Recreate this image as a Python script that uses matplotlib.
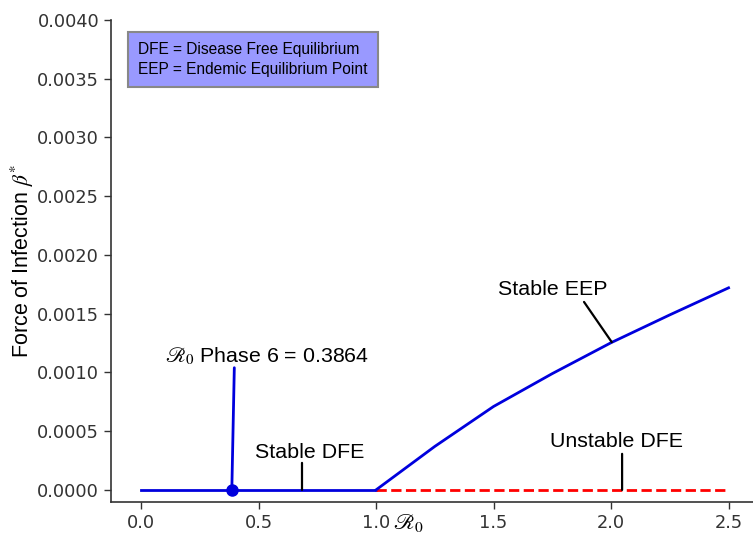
import matplotlib
matplotlib.use("Agg")
import matplotlib.pyplot as plt

plt.rcParams['font.family'] = ['Liberation Sans', 'DejaVu Sans']
plt.rcParams['mathtext.fontset'] = 'stix'

# Data
dfe_r0 = [0.0, 1.0]
dfe_beta = [0.0, 0.0]
unstable_r0 = [1.0, 2.5]
unstable_beta = [0.0, 0.0]
eep_r0 = [1.0, 1.25, 1.5, 1.75, 2.0, 2.25, 2.5]
eep_beta = [0.0, 0.00037, 0.00071, 0.00099, 0.001253, 0.00149, 0.00172]
phase6_r0 = 0.3864
phase6_beta = 0.0
xticks = [0.0, 0.5, 1.0, 1.5, 2.0, 2.5]
yticks = [0.0, 0.0005, 0.0010, 0.0015, 0.0020, 0.0025, 0.0030, 0.0035, 0.0040]

fig = plt.figure(figsize=(7.53, 5.40), dpi=100)
ax = fig.add_axes([111/753, 38/540, 1 - 111/753, (502-20)/540])

ax.plot(dfe_r0, dfe_beta, color='#0000dd', lw=2)
ax.plot(unstable_r0, unstable_beta, color='red', lw=2, ls='--')
ax.plot(eep_r0, eep_beta, color='#0000dd', lw=2)
ax.plot([phase6_r0], [phase6_beta], 'o', color='#0000dd', ms=8, zorder=5)

ax.set_xlim(-0.1277, 2.604)
ax.set_ylim(-0.000103, 0.0040)
ax.set_xticks(xticks)
ax.set_xticklabels([f"{v:.1f}" for v in xticks])
ax.set_yticks(yticks)
ax.set_yticklabels([f"{v:.4f}" for v in yticks])
ax.tick_params(labelsize=12.8, length=5, width=1, colors='#333333', labelcolor='#333333')
for lab in ax.get_xticklabels() + ax.get_yticklabels():
    lab.set_family('DejaVu Sans')

for s in ['top', 'right']:
    ax.spines[s].set_visible(False)
for s in ['left', 'bottom']:
    ax.spines[s].set_color('#333333')
    ax.spines[s].set_linewidth(1.2)

ax.set_ylabel(r'Force of Infection $\beta^{*}$', fontsize=15.5, labelpad=1)
ax.set_xlabel(r'$\mathscr{R}_0$', fontsize=16)
ax.xaxis.set_label_coords((408-111)/(753-111), -0.02)

lp = dict(arrowstyle='-', color='black', lw=1.6, shrinkA=0, shrinkB=0)

# Phase 6 annotation
ax.annotate('', xy=(phase6_r0, phase6_beta), xytext=(0.397, 0.00104),
            arrowprops=dict(arrowstyle='-', color='#0000dd', lw=2, shrinkA=0, shrinkB=0))
ax.text(0.536, 0.001136, r'$\mathscr{R}_0$ Phase 6 = 0.3864', fontsize=15.4,
        ha='center', va='center')

# Stable DFE
ax.annotate('', xy=(0.685, 0.0), xytext=(0.685, 0.00023), arrowprops=lp)
ax.text(0.719, 0.000316, 'Stable DFE', fontsize=15.4, ha='center', va='center')

# Unstable DFE
ax.annotate('', xy=(2.047, 0.0), xytext=(2.047, 0.000307), arrowprops=lp)
ax.text(2.024, 0.000412, 'Unstable DFE', fontsize=15.4, ha='center', va='center')

# Stable EEP
ax.annotate('', xy=(2.003, 0.001258), xytext=(1.885, 0.0016), arrowprops=lp)
ax.text(1.753, 0.001708, 'Stable EEP', fontsize=15.4, ha='center', va='center')

# Legend box
ax.text(0.042, 0.918, 'DFE = Disease Free Equilibrium\nEEP = Endemic Equilibrium Point',
        transform=ax.transAxes, fontsize=11.2, ha='left', va='center', linespacing=1.35,
        bbox=dict(boxstyle='square,pad=0.65', facecolor='#9999ff', edgecolor='#888888', lw=1.5))

fig.savefig('out.png', dpi=100)
